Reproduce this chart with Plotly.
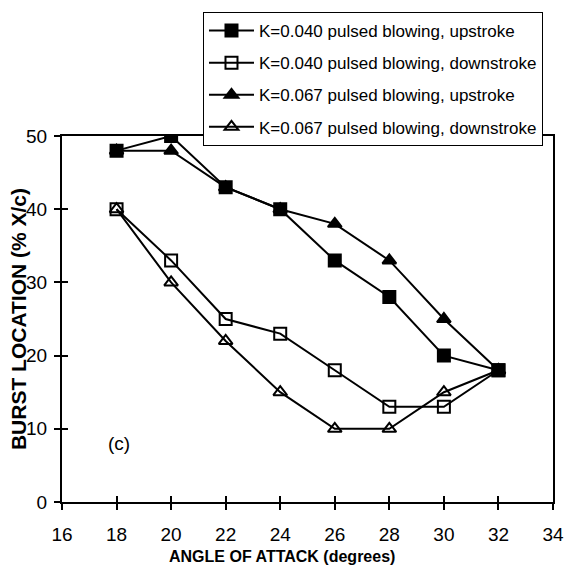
import plotly.graph_objects as go

angle = [18, 20, 22, 24, 26, 28, 30, 32]
k040_up = [48, 50, 43, 40, 33, 28, 20, 18]
k040_down = [40, 33, 25, 23, 18, 13, 13, 18]
k067_up = [48, 48, 43, 40, 38, 33, 25, 18]
k067_down = [40, 30, 22, 15, 10, 10, 15, 18]

names = ["K=0.040 pulsed blowing, upstroke",
         "K=0.040 pulsed blowing, downstroke",
         "K=0.067 pulsed blowing, upstroke",
         "K=0.067 pulsed blowing, downstroke"]
series = [k040_up, k040_down, k067_up, k067_down]
symbols = ["square", "square-open", "triangle-up", "triangle-up-open"]

FONT = "Liberation Sans, Arial, sans-serif"

# plot-area pixel geometry (576x567 canvas)
L, R, T, B = 62, 560, 133, 502
PW, PH = R - L, B - T

xt = [16, 18, 20, 22, 24, 26, 28, 30, 32, 34]
yt = [0, 10, 20, 30, 40, 50]

fig = go.Figure()
# helper trace on the overlay axes so they render (inner half of crossing ticks)
fig.add_trace(go.Scatter(x=[16, 34], y=[0, 50], xaxis="x2", yaxis="y2",
                         mode="markers", marker=dict(opacity=0),
                         showlegend=False, hoverinfo="skip"))
for i, (nm, ys, sym) in enumerate(zip(names, series, symbols)):
    fig.add_trace(go.Scatter(
        x=angle, y=ys, name=nm, mode="lines+markers", legendgroup=f"g{i}",
        line=dict(color="black", width=2),
        marker=dict(symbol=sym, size=12, color="black",
                    line=dict(color="black", width=2)),
    ))

fig.update_layout(
    width=576, height=567,
    margin=dict(l=L, r=576 - R, t=T, b=567 - B),
    paper_bgcolor="white", plot_bgcolor="white",
    font=dict(family=FONT, size=18, color="black"),
    showlegend=True,
    legend=dict(x=(205 - L) / PW, y=(B - 8) / PH, xanchor="left", yanchor="top",
                bgcolor="white", bordercolor="black", borderwidth=1,
                font=dict(size=17), tracegroupgap=7, itemwidth=45),
    xaxis=dict(range=[16, 34], tickvals=xt,
               showgrid=False, zeroline=False, showline=True, linecolor="black",
               linewidth=2, mirror=True, ticks="outside", ticklen=6, tickwidth=2,
               tickcolor="black", tickfont=dict(size=19), ticklabelstandoff=8),
    yaxis=dict(range=[0, 50], tickvals=yt,
               showgrid=False, zeroline=False, showline=True, linecolor="black",
               linewidth=2, mirror=True, ticks="outside", ticklen=6, tickwidth=2,
               tickcolor="black", tickfont=dict(size=19), ticklabelstandoff=3),
    xaxis2=dict(range=[16, 34], tickvals=xt, overlaying="x", side="bottom",
                anchor="y", showgrid=False, zeroline=False, showline=False,
                showticklabels=False, ticks="inside", ticklen=6, tickwidth=2,
                tickcolor="black"),
    yaxis2=dict(range=[0, 50], tickvals=yt, overlaying="y", side="left",
                anchor="x", showgrid=False, zeroline=False, showline=False,
                showticklabels=False, ticks="inside", ticklen=6, tickwidth=2,
                tickcolor="black"),
    annotations=[
        dict(x=(120 - L) / PW, y=(B - 443) / PH, xref="paper", yref="paper",
             text="(c)", showarrow=False, font=dict(size=19),
             xanchor="center", yanchor="middle"),
        dict(x=(285 - L) / PW, y=(B - 557) / PH, xref="paper", yref="paper",
             yanchor="middle", xanchor="center",
             text="<b>ANGLE OF ATTACK (degrees)</b>", showarrow=False,
             font=dict(size=16)),
        dict(x=(18 - L) / PW, y=(B - 318) / PH, xref="paper", yref="paper",
             xanchor="center", yanchor="middle",
             text="<b>BURST LOCATION (% X/c)</b>",
             showarrow=False, textangle=-90, font=dict(size=21)),
    ],
)

fig.write_html("out.html")
